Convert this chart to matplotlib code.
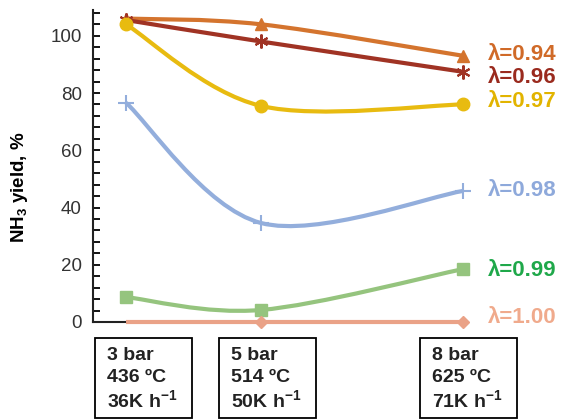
import matplotlib
matplotlib.use("Agg")
import matplotlib.pyplot as plt
from matplotlib.path import Path
from matplotlib.patches import PathPatch, Rectangle

plt.rcParams['font.family'] = ['Liberation Sans', 'DejaVu Sans']
plt.rcParams['mathtext.fontset'] = 'custom'
plt.rcParams['mathtext.rm'] = 'Liberation Sans'
plt.rcParams['mathtext.bf'] = 'Liberation Sans:bold'
plt.rcParams['mathtext.default'] = 'bf'

# data (pressure in bar on x, NH3 yield % on y)
pressure = [3, 5, 8]
conditions = [["3 bar", "436 ºC", "36K h$^{-1}$"],
              ["5 bar", "514 ºC", "50K h$^{-1}$"],
              ["8 bar", "625 ºC", "71K h$^{-1}$"]]

lambdas = ["0.94", "0.96", "0.97", "0.98", "0.99", "1.00"]
y094 = [106, 104, 93]
y096 = [105.5, 98, 87.4]
y097 = [104, 75.5, 76]
y098 = [76.6, 34.6, 45.8]
y099 = [8.7, 4.2, 18.5]
y100 = [0, 0, 0]
series = [y094, y096, y097, y098, y099, y100]

line_colors = ["#D4742E", "#A03324", "#E8BB10", "#93AEDC", "#95C47E", "#EAA287"]
text_colors = ["#D06A28", "#9A2A1E", "#E2B400", "#8EA9DB", "#1FA84A", "#F0AA8C"]
markers = ["^", (6, 2, 0), "o", "+", "s", "D"]
msizes = [9, 10, 9, 11, 8, 6]
label_y = [93.5, 85.5, 77, 46, 18, 1.5]


def smooth_path(xs, ys):
    # excel-like smoothed line as cubic bezier segments
    verts = [(xs[0], ys[0])]
    codes = [Path.MOVETO]
    n = len(xs)
    for i in range(n - 1):
        i0 = max(i - 1, 0)
        i3 = min(i + 2, n - 1)
        c1 = (xs[i] + (xs[i + 1] - xs[i0]) / 6.0, ys[i] + (ys[i + 1] - ys[i0]) / 6.0)
        c2 = (xs[i + 1] - (xs[i3] - xs[i]) / 6.0, ys[i + 1] - (ys[i3] - ys[i]) / 6.0)
        verts += [c1, c2, (xs[i + 1], ys[i + 1])]
        codes += [Path.CURVE4] * 3
    return Path(verts, codes)


fig = plt.figure(figsize=(5.63, 4.2), dpi=100)
ax = fig.add_axes([93 / 563, 1 - 322 / 420, (480 - 93) / 563, 312 / 420])

ax.set_xlim(2.51, 8.25)
ax.set_ylim(0, 109)

for k in range(len(series)):
    p = PathPatch(smooth_path(pressure, series[k]), facecolor='none',
                  edgecolor=line_colors[k], lw=3, clip_on=False, zorder=3)
    ax.add_patch(p)
    mew = 1.5 if k in (1, 3) else 1
    every = [1, 2] if k == 5 else None
    ax.plot(pressure, series[k], linestyle='none', marker=markers[k],
            ms=msizes[k], color=line_colors[k], mec=line_colors[k],
            mew=mew, markevery=every, clip_on=False, zorder=4)
    ax.text(8.36, label_y[k], "λ=" + lambdas[k], color=text_colors[k],
            fontsize=16, fontweight='bold', va='center', ha='left')

ax.spines['top'].set_visible(False)
ax.spines['right'].set_visible(False)
ax.spines['bottom'].set_bounds(2.51, 8)
ax.spines['left'].set_linewidth(1.5)
ax.spines['bottom'].set_linewidth(1.5)
ax.spines['left'].set_color('#222222')
ax.spines['bottom'].set_color('#222222')
ax.set_xticks([])
ax.set_yticks([0, 20, 40, 60, 80, 100])
ax.set_yticks(range(0, 109, 4), minor=True)
ax.tick_params(axis='y', which='major', direction='in', length=5, width=1.3,
               labelsize=13.5, labelcolor='#333333', pad=8)
ax.tick_params(axis='y', which='minor', direction='in', length=5, width=1.3)

fig.text(20 / 563, 1 - 187 / 420, "NH$_3$ yield, %", rotation=90,
         fontsize=13.5, fontweight='bold', ha='center', va='center')

# condition boxes under the x axis
box_left = [95, 219, 420]
for j in range(3):
    x0 = box_left[j] / 563
    r = Rectangle((x0, 2 / 420), 97 / 563, (418 - 338) / 420,
                  transform=fig.transFigure, facecolor='white',
                  edgecolor='black', lw=1.3)
    fig.patches.append(r)
    for i, line in enumerate(conditions[j]):
        fig.text(x0 + 12 / 563, 1 - (355 + 22.5 * i) / 420, line,
                 fontsize=14, fontweight='bold', ha='left', va='center',
                 color='#222222')

fig.savefig("out.png", dpi=100)
